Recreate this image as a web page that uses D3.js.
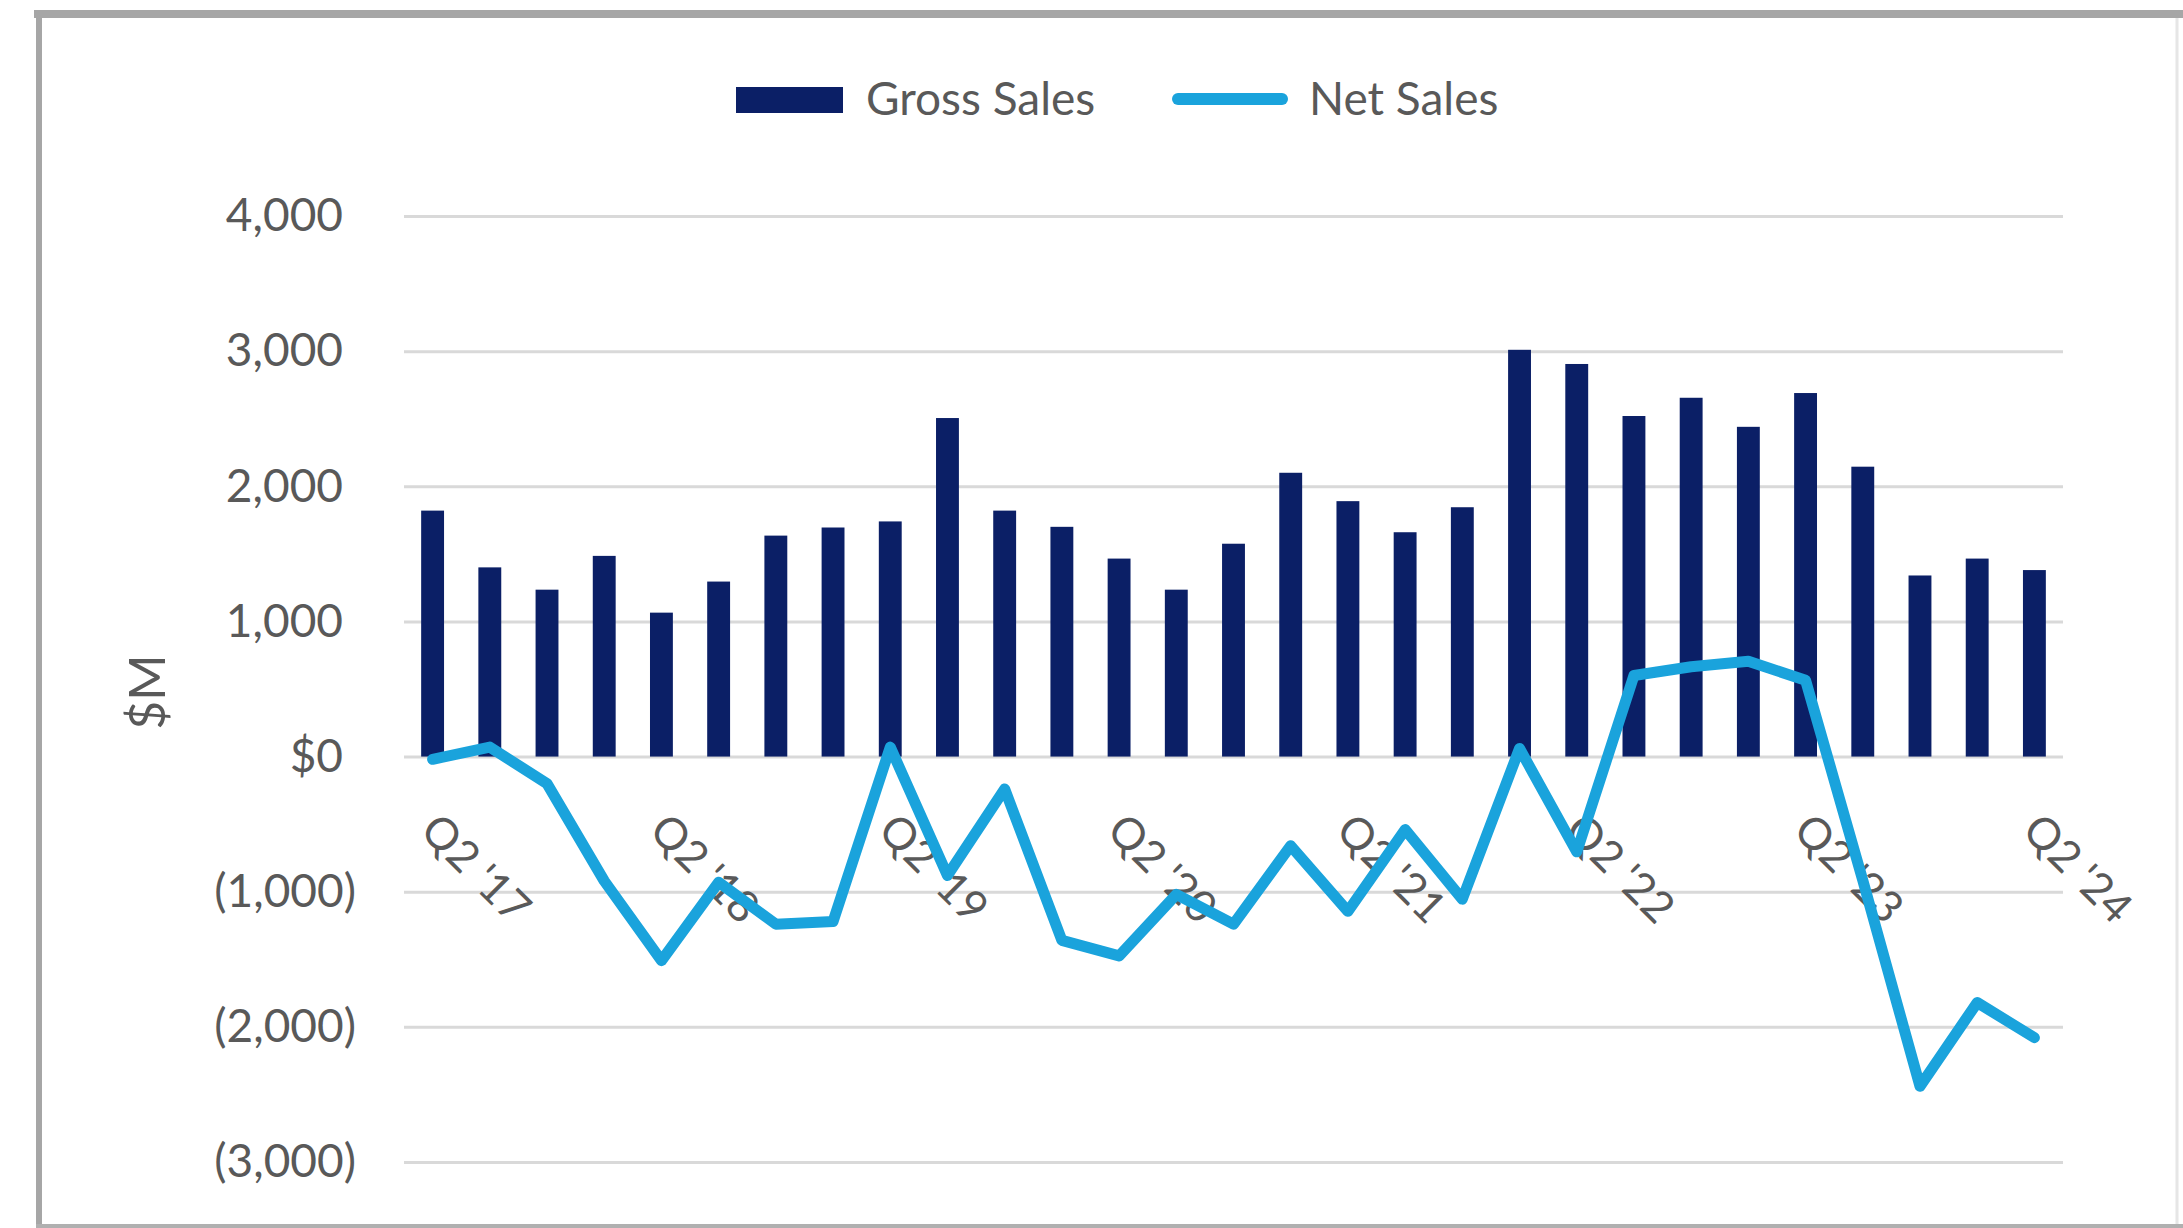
<!DOCTYPE html>
<html>
<head>
<meta charset="utf-8">
<script src="https://cdn.jsdelivr.net/npm/d3@7"></script>
<style>
  body { margin: 0; background: #ffffff; }
  text { font-family: Lato, "Open Sans", sans-serif; fill: #595959; }
</style>
</head>
<body>
<svg id="chart" width="2183" height="1228"></svg>
<script>
const quarters = [
    "Q2 '17", "Q3 '17", "Q4 '17", "Q1 '18", "Q2 '18", "Q3 '18", "Q4 '18", "Q1 '19",
    "Q2 '19", "Q3 '19", "Q4 '19", "Q1 '20", "Q2 '20", "Q3 '20", "Q4 '20", "Q1 '21",
    "Q2 '21", "Q3 '21", "Q4 '21", "Q1 '22", "Q2 '22", "Q3 '22", "Q4 '22", "Q1 '23",
    "Q2 '23", "Q3 '23", "Q4 '23", "Q1 '24", "Q2 '24"
];
const grossSales = [
    1820, 1400, 1235, 1485, 1065, 1295, 1635, 1695,
    1740, 2505, 1820, 1700, 1465, 1235, 1575, 2100,
    1890, 1660, 1845, 3010, 2905, 2520, 2655, 2440,
    2690, 2145, 1340, 1465, 1380
];
const netSales = [
    -20, 70, -200, -920, -1510, -930, -1240, -1220,
    70, -880, -240, -1360, -1475, -1020, -1240, -660,
    -1145, -540, -1055, 60, -705, 600, 665, 705,
    565, -915, -2440, -1820, -2080
];
const yTicks = [-3000, -2000, -1000, 0, 1000, 2000, 3000, 4000];
const yTickLabels = ["(3,000)", "(2,000)", "(1,000)", "$0", "1,000", "2,000", "3,000", "4,000"];
const xTickLabels = ["Q2 '17", "Q2 '18", "Q2 '19", "Q2 '20", "Q2 '21", "Q2 '22", "Q2 '23", "Q2 '24"];
const seriesNames = ["Gross Sales", "Net Sales"];

const svg = d3.select("#chart");
const margin = {top: 216, left: 404};
const innerWidth = 2063 - 404;
const innerHeight = 1162 - 216;

const barColour = "#0b1f66";
const lineColour = "#1aa3dc";
const gridColour = "#d9d9d9";

function drawFrame() {
    svg.append("line")
        .attr("x1", 34).attr("x2", 2183).attr("y1", 14).attr("y2", 14)
        .attr("stroke", "#a6a6a6").attr("stroke-width", 8);
    svg.append("line")
        .attr("x1", 39).attr("x2", 39).attr("y1", 10).attr("y2", 1228)
        .attr("stroke", "#a6a6a6").attr("stroke-width", 6);
    svg.append("line")
        .attr("x1", 36).attr("x2", 2183).attr("y1", 1226).attr("y2", 1226)
        .attr("stroke", "#b0b0b0").attr("stroke-width", 4);
    svg.append("line")
        .attr("x1", 2177).attr("x2", 2177).attr("y1", 18).attr("y2", 1224)
        .attr("stroke", "#e6e6e6").attr("stroke-width", 3);
}

function createChartGroup() {
    return svg.append("g")
        .attr("transform", "translate(" + margin.left + "," + margin.top + ")");
}

function createXScale() {
    return d3.scaleBand()
        .domain(quarters)
        .range([0, innerWidth])
        .paddingInner(0.6)
        .paddingOuter(0.3);
}

function createYScale() {
    return d3.scaleLinear()
        .domain([-3000, 4000])
        .range([innerHeight, 0]);
}

function appendYAxis(chart, y) {
    const axis = chart.append("g")
        .call(d3.axisLeft(y)
            .tickValues(yTicks)
            .tickSize(-innerWidth)
            .tickPadding(48)
            .tickFormat((d, i) => yTickLabels[i]));
    axis.select(".domain").remove();
    axis.selectAll(".tick line")
        .attr("stroke", gridColour)
        .attr("stroke-width", 3);
    axis.selectAll(".tick text")
        .attr("fill", "#595959")
        .style("font-size", "46px")
        .attr("x", (d) => d >= 0 ? -61 : -48);
}

function appendXAxis(chart, x, y) {
    const axis = chart.append("g")
        .attr("transform", "translate(0," + y(0) + ")")
        .call(d3.axisBottom(x)
            .tickValues(quarters.filter((q) => xTickLabels.includes(q)))
            .tickSize(0));
    axis.select(".domain").remove();
    axis.selectAll(".tick text")
        .attr("fill", "#595959")
        .style("font-size", "44px")
        .attr("x", 0)
        .attr("y", 0)
        .attr("dy", null)
        .attr("dominant-baseline", "central")
        .attr("text-anchor", "start")
        .attr("transform", "translate(-2,64) rotate(45)");
    return axis;
}

function addBars(chart, x, y) {
    chart.selectAll(".bar")
        .data(grossSales)
        .enter()
        .append("rect")
            .attr("class", "bar")
            .attr("x", (d, i) => x(quarters[i]))
            .attr("width", x.bandwidth())
            .attr("y", (d) => y(d))
            .attr("height", (d) => y(0) - y(d))
            .attr("fill", barColour);
}

function addLine(chart, x, y) {
    const line = d3.line()
        .x((d, i) => x(quarters[i]) + x.bandwidth() / 2)
        .y((d) => y(d));
    chart.append("path")
        .datum(netSales)
        .attr("d", line)
        .attr("fill", "none")
        .attr("stroke", lineColour)
        .attr("stroke-width", 11)
        .attr("stroke-linejoin", "round")
        .attr("stroke-linecap", "round");
}

function addAxisTitle() {
    svg.append("text")
        .attr("transform", "translate(146,692) rotate(-90)")
        .attr("text-anchor", "middle")
        .attr("dominant-baseline", "central")
        .style("font-size", "50px")
        .text("$M");
}

function addLegend() {
    const legend = svg.append("g");
    legend.append("rect")
        .attr("x", 736).attr("y", 87)
        .attr("width", 107).attr("height", 26)
        .attr("fill", barColour);
    legend.append("text")
        .attr("x", 866).attr("y", 97)
        .attr("dominant-baseline", "central")
        .style("font-size", "46px")
        .text(seriesNames[0]);
    legend.append("line")
        .attr("x1", 1178).attr("x2", 1282)
        .attr("y1", 99).attr("y2", 99)
        .attr("stroke", lineColour)
        .attr("stroke-width", 12)
        .attr("stroke-linecap", "round");
    legend.append("text")
        .attr("x", 1309).attr("y", 97)
        .attr("dominant-baseline", "central")
        .style("font-size", "46px")
        .text(seriesNames[1]);
}

function render() {
    drawFrame();
    const chart = createChartGroup();
    const x = createXScale();
    const y = createYScale();
    appendYAxis(chart, y);
    addBars(chart, x, y);
    appendXAxis(chart, x, y);
    addLine(chart, x, y);
    addAxisTitle();
    addLegend();
}

render();
</script>
</body>
</html>
